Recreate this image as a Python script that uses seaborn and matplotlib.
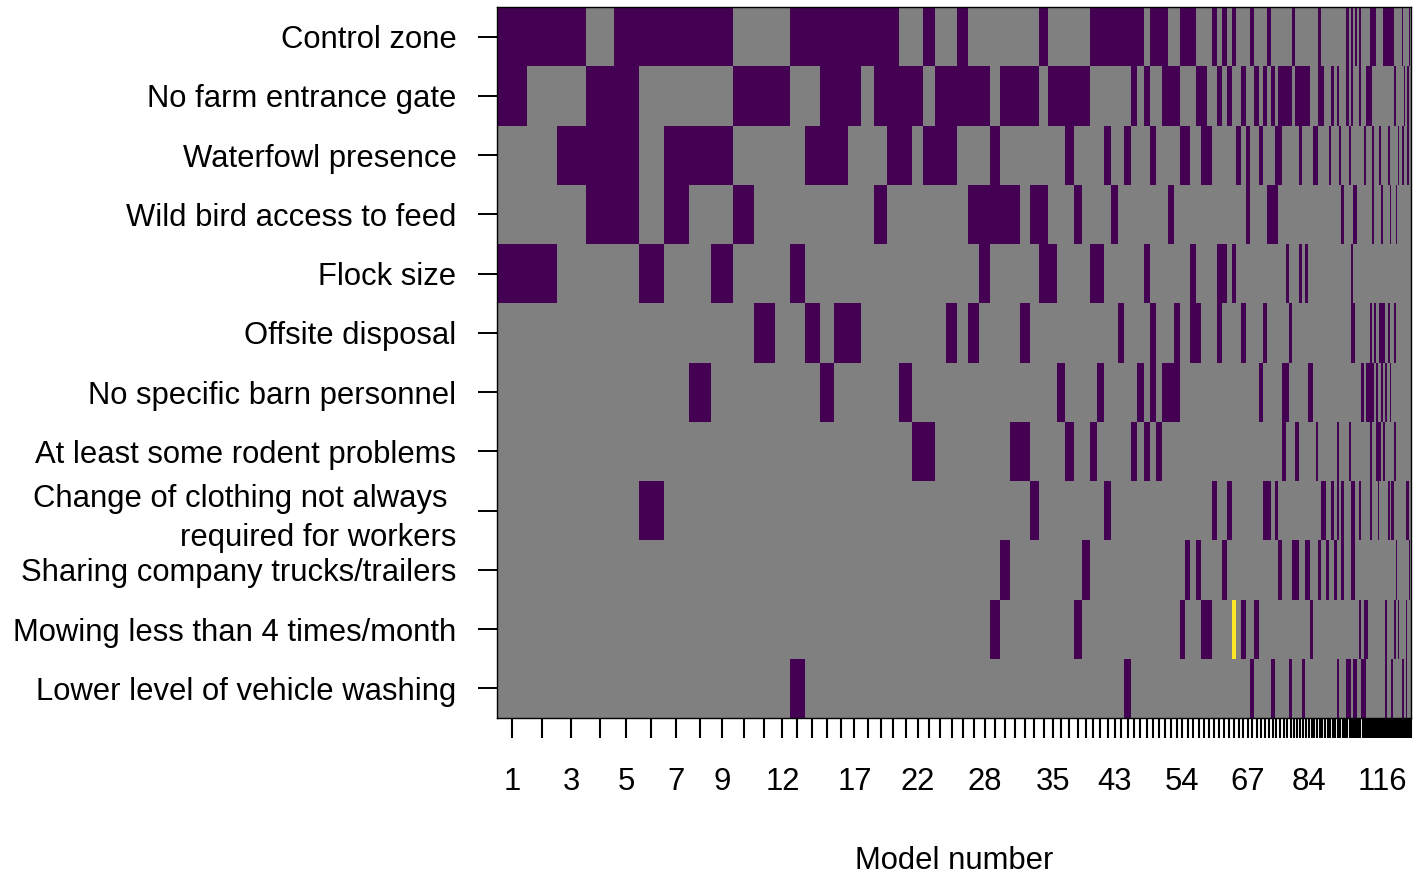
import numpy as np
import matplotlib
matplotlib.use("Agg")
import matplotlib.pyplot as plt
import seaborn as sns
from matplotlib.colors import ListedColormap, BoundaryNorm

# ---------------- data ----------------
variables = [
    "Control zone",
    "No farm entrance gate",
    "Waterfowl presence",
    "Wild bird access to feed",
    "Flock size",
    "Offsite disposal",
    "No specific barn personnel",
    "At least some rodent problems",
    "Change of clothing not always \nrequired for workers",
    "Sharing company trucks/trailers",
    "Mowing less than 4 times/month",
    "Lower level of vehicle washing",
]

# relative posterior probability of each model (models 1..141, sorted)
post_prob = [
    30, 30, 29, 28, 25, 25, 25,
    22.5, 22.2, 20.7, 20.6,
    15.3, 14.9, 14.8, 14.0, 13.9, 13.8,
    13.0, 12.7, 12.5, 12.4,
    11.5, 11.4, 11.3, 11.2, 11.2, 11.1,
    10.4, 10.3, 10.2, 10.1,
    9.4, 9.2, 9.1, 9.0,
    8.3, 8.2, 8.1, 8.0,
    7.3, 7.1, 7.0, 7.0,
    6.5, 6.4, 6.35, 6.3, 6.25, 6.2,
    6.0, 5.9, 5.9, 5.8,
    5.5, 5.45, 5.4, 5.35, 5.3, 5.25, 5.15,
    5.0, 4.9, 4.85, 4.8, 4.7, 4.6, 4.45,
    4.3, 4.2, 4.1, 4.0, 3.95, 3.9, 3.8, 3.75, 3.7,
    3.3, 3.2, 3.15, 3.1, 3.05, 3.0, 2.95, 2.9,
    2.7, 2.68, 2.66, 2.64, 2.62, 2.6, 2.58, 2.56, 2.54, 2.52, 2.5, 2.48, 2.46, 2.44,
    2.22, 2.20, 2.18, 2.16, 2.14, 2.12, 2.10, 2.08, 2.06, 2.04, 2.02, 2.00,
    1.98, 1.96, 1.94, 1.92, 1.90, 1.88,
    1.8, 1.7, 1.6, 1.55, 1.5, 1.45, 1.4, 1.35, 1.3, 1.25, 1.2, 1.15, 1.1,
    1.05, 1.0, 0.95, 0.9, 0.85, 0.8, 0.75, 0.7, 0.65, 0.6, 0.6, 0.6,
]

# models (1-based) in which each variable is included with positive effect
control_zone = [1, 2, 3, 5, 6, 7, 8, 9, 13, 14, 15, 16, 17, 18, 19, 20, 23, 26, 34,
                40, 41, 42, 43, 44, 45, 46, 47, 49, 50, 51, 54, 55, 56, 60, 62, 64, 68,
                72, 79, 88, 99, 101, 103, 105, 110, 111, 112, 117, 118, 119, 120, 121,
                122, 123, 130, 138, 139, 140]
no_gate = [1, 4, 5, 10, 11, 12, 15, 16, 17, 19, 20, 21, 22, 24, 25, 26, 27, 28, 30, 31,
           32, 33, 35, 36, 37, 38, 39, 46, 48, 51, 52, 53, 57, 58, 61, 63, 66, 69, 71,
           73, 75, 76, 77, 78, 80, 81, 82, 83, 84, 88, 89, 93, 95, 99, 101, 105, 108,
           109, 110, 124, 132, 136, 137]
waterfowl = [3, 4, 5, 7, 8, 9, 14, 15, 16, 20, 21, 23, 24, 25, 29, 37, 42, 45, 49, 54,
             55, 58, 59, 65, 67, 70, 74, 75, 81, 86, 87, 92, 96, 100, 107, 111, 115,
             120, 127, 130, 131, 136, 137]
wild_bird_feed = [4, 5, 7, 10, 19, 27, 28, 29, 30, 31, 33, 34, 38, 43, 52, 67, 72, 73,
                  74, 97, 102, 103, 111, 116, 121, 125]
flock_size = [1, 2, 6, 9, 13, 28, 34, 35, 40, 41, 48, 56, 61, 62, 64, 77, 81, 83, 101]
offsite_disposal = [11, 14, 16, 17, 25, 27, 32, 44, 49, 53, 56, 57, 61, 66, 71, 78,
                    101, 102, 110, 112, 115, 116, 117, 120, 124]
barn_personnel = [8, 15, 21, 36, 41, 47, 49, 51, 52, 53, 70, 76, 77, 84, 85, 106, 108,
                  109, 110, 111, 113, 116, 118, 121]
rodents = [22, 23, 31, 32, 37, 40, 46, 48, 50, 76, 80, 87, 95, 100, 110, 113, 114, 115,
           117, 124]
clothing = [6, 33, 42, 60, 63, 71, 72, 74, 89, 90, 93, 95, 97, 101, 102, 105, 110, 114,
            120, 122, 123, 135, 136, 137]
sharing_trucks = [30, 39, 55, 57, 62, 75, 79, 80, 83, 84, 88, 91, 94, 97, 101, 102,
                  125, 138, 139]
mowing = [29, 38, 54, 58, 59, 66, 69, 85, 105, 107, 108, 118, 124, 127, 135]
vehicle_washing = [13, 45, 68, 73, 78, 82, 95, 99, 100, 102, 103, 106, 107, 118, 122,
                   130, 131, 135]

# models in which a variable is included with negative effect
mowing_negative = [64]

shown_model_labels = [1, 3, 5, 7, 9, 12, 17, 22, 28, 35, 43, 54, 67, 84, 116]

# ---------------- build ----------------
positive_lists = [control_zone, no_gate, waterfowl, wild_bird_feed, flock_size,
                  offsite_disposal, barn_personnel, rodents, clothing, sharing_trucks,
                  mowing, vehicle_washing]
negative_lists = [[], [], [], [], [], [], [], [], [], [], mowing_negative, []]

n_models = len(post_prob)
M = np.zeros((len(variables), n_models))
for i, (pos, neg) in enumerate(zip(positive_lists, negative_lists)):
    for m in pos:
        M[i, m - 1] = 1
    for m in neg:
        M[i, m - 1] = -1

p = np.asarray(post_prob, dtype=float)
p = p / p.sum()
x_edges = np.concatenate([[0.0], np.cumsum(p)])
y_edges = np.arange(len(variables) + 1)
centers = (x_edges[:-1] + x_edges[1:]) / 2

# ---------------- style ----------------
sns.set_theme(style="white")
plt.rcParams["font.family"] = ["Liberation Sans", "DejaVu Sans"]

vir = sns.color_palette("viridis", as_cmap=True)
purple = vir(0.0)
yellow = vir(1.0)
grey = "#808080"
cmap = ListedColormap([yellow, grey, purple])
norm = BoundaryNorm([-1.5, -0.5, 0.5, 1.5], cmap.N)

W, H = 1418, 875
fig = plt.figure(figsize=(W / 100, H / 100), dpi=100)
ax = fig.add_axes([497 / W, 1 - 718 / H, (1411 - 497) / W, (718 - 7) / H])

ax.pcolormesh(x_edges, y_edges, M, cmap=cmap, norm=norm, shading="flat",
              edgecolors="none", linewidth=0, antialiased=False)
ax.set_xlim(0, 1)
ax.set_ylim(len(variables), 0)

fs = 22.3
ax.set_xticks(centers)
ax.set_xticklabels([str(k) if k in shown_model_labels else "" for k in range(1, n_models + 1)],
                   fontsize=fs)
ax.set_yticks(np.arange(len(variables)) + 0.5)
ax.set_yticklabels(variables, fontsize=fs, linespacing=1.38)

ax.tick_params(axis="x", bottom=True, direction="out", length=14.4, width=1.5,
               pad=21, colors="black")
ax.tick_params(axis="y", left=True, direction="out", length=13.7, width=1.4,
               pad=15.5, colors="black")

for s in ax.spines.values():
    s.set_visible(True)
    s.set_color("black")
    s.set_linewidth(1.0)

fig.text((497 + 1411) / 2 / W, 1 - 869 / H, "Model number", ha="center",
         va="baseline", fontsize=fs, color="black")

fig.savefig("out.png", dpi=100)
